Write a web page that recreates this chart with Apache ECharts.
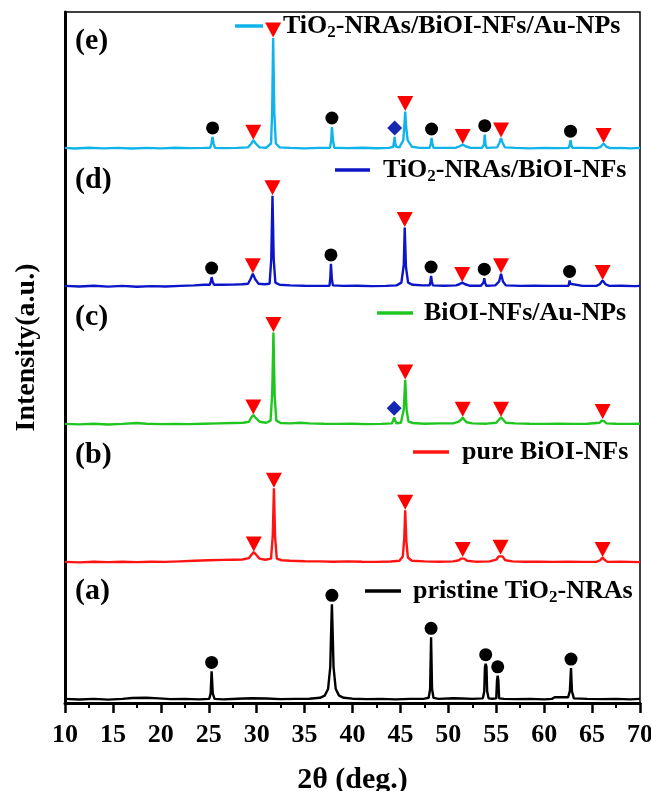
<!DOCTYPE html>
<html>
<head>
<meta charset="utf-8">
<script src="https://cdn.jsdelivr.net/npm/echarts@6/dist/echarts.min.js"></script>
<style>
  html, body { margin: 0; padding: 0; background: #fff; }
  #chart { width: 651px; height: 791px; }
</style>
</head>
<body>
<div id="chart"></div>
<script>
// XRD patterns, stacked from top (e) to bottom (a). Intensity in arbitrary units.
// Each pattern = background/shoulder points + the indexed reflections (peaks).
// Peak phase: 'A' = TiO2, 'B' = BiOI, 'Au' = Au

const sampleNames = [
  'TiO2-NRAs/BiOI-NFs/Au-NPs',
  'TiO2-NRAs/BiOI-NFs',
  'BiOI-NFs/Au-NPs',
  'pure BiOI-NFs',
  'pristine TiO2-NRAs'
];
const sampleTags = ['(e)', '(d)', '(c)', '(b)', '(a)'];

// (e) TiO2-NRAs/BiOI-NFs/Au-NPs
const peaksE = [
  [25.4, 11, 'A'], [29.65, 8, 'B'], [31.72, 101, 'B'], [37.85, 20, 'A'],
  [44.4, 11, 'Au'], [45.5, 34, 'B'], [48.25, 10, 'A'], [51.5, 4, 'B'],
  [53.8, 13, 'A'], [55.5, 10, 'B'], [62.75, 8, 'A'], [66.2, 5, 'B']
];
const profileE = [
  [10, 1], [11, 0.5], [12.5, 1.2], [14, 0.6], [15.5, 1], [17, 0.4], [18.5, 1], [20, 0.6],
  [21.5, 1.2], [23, 0.8], [24.5, 1], [25.15, 1.2], [25.28, 5], [25.5, 5], [25.65, 1],
  [26.5, 0.8], [28, 1], [29.1, 1.5], [29.45, 5], [29.9, 5], [30.3, 1.5], [31.0, 1.2],
  [31.5, 5], [31.62, 35], [31.84, 33], [32.0, 5], [32.4, 1.5], [33.5, 1], [35, 0.6],
  [36.5, 1], [37.65, 1.2], [37.78, 8], [37.98, 7], [38.1, 1.2], [39.5, 0.8], [41, 1.2],
  [42.5, 0.7], [43.8, 1], [44.25, 2], [44.32, 6], [44.47, 5], [44.55, 2], [44.9, 1.5],
  [45.3, 8], [45.42, 22], [45.6, 20], [45.75, 8], [46.2, 2], [47, 1], [48.05, 1.2],
  [48.18, 5], [48.33, 5], [48.45, 1.2], [49.5, 1], [50.8, 1.2], [51.2, 2.5], [51.8, 2.5],
  [52.3, 1], [53.5, 1], [53.72, 4], [53.88, 4], [54.0, 1], [55.1, 1.5], [55.35, 6],
  [55.65, 6], [55.9, 1.5], [57, 1], [58.5, 0.6], [60, 1], [61.5, 0.8], [62.55, 1],
  [62.67, 4], [62.85, 3], [62.95, 1], [64, 1], [65.5, 0.8], [65.9, 2], [66.5, 2],
  [66.9, 0.8], [68, 1], [69, 0.6], [70, 1]
];

// (d) TiO2-NRAs/BiOI-NFs
const peaksD = [
  [25.3, 9, 'A'], [29.6, 12, 'B'], [31.65, 83, 'B'], [37.75, 21, 'A'],
  [45.45, 54, 'B'], [48.2, 10, 'A'], [51.45, 4, 'B'], [53.75, 8, 'A'],
  [55.5, 12, 'B'], [62.65, 6, 'A'], [66.1, 6, 'B']
];
const profileD = [
  [10, 1], [11.5, 0.5], [13, 1.2], [14.5, 0.3], [16, 1], [17.5, 0.2], [19, 0.8], [20.5, 0.4],
  [22, 1], [23.5, 1.5], [24.5, 2], [25.1, 2], [25.22, 5], [25.4, 5], [25.55, 2], [26.5, 2],
  [27.5, 2.2], [28.5, 2.5], [29.1, 3], [29.35, 7], [29.85, 7], [30.2, 3], [30.8, 2.5],
  [31.35, 3], [31.52, 25], [31.78, 25], [31.95, 4], [32.4, 2], [33.5, 1.5], [35, 1.2],
  [36.5, 1], [37.6, 1.2], [37.68, 8], [37.85, 7], [37.95, 1.5], [39, 1], [40.5, 1.2],
  [42, 0.8], [43.5, 1], [44.6, 1.5], [45.1, 4], [45.35, 20], [45.58, 18], [45.8, 4],
  [46.3, 2], [47.3, 1.5], [48.05, 1.5], [48.13, 5], [48.28, 5], [48.38, 1.5], [49.5, 1.2],
  [50.8, 1.5], [51.15, 2.5], [51.75, 2.5], [52.2, 1.2], [53.4, 1.2], [53.67, 4], [53.83, 4],
  [53.95, 1.2], [54.9, 1.5], [55.3, 5], [55.7, 5], [56, 1.5], [57.5, 1], [59, 1.2],
  [60.5, 1], [62, 1], [62.55, 1.2], [62.6, 3], [62.72, 3], [62.8, 1.2], [64, 1],
  [65.5, 1.2], [65.8, 2.5], [66.4, 2.5], [66.8, 1], [68, 1.2], [69.5, 0.8], [70, 1]
];

// (c) BiOI-NFs/Au-NPs
const peaksC = [
  [29.65, 9, 'B'], [31.75, 84, 'B'], [44.35, 7, 'Au'], [45.5, 41, 'B'],
  [51.5, 7, 'B'], [55.5, 7, 'B'], [66.1, 5, 'B']
];
const profileC = [
  [10, 1], [11.5, 0.6], [13, 1.2], [14.5, 0.5], [16, 1], [17.5, 1.8], [18.5, 1.2], [20, 0.8],
  [21.5, 1], [23, 0.8], [24.5, 1.2], [26, 1.5], [27.5, 1.8], [28.6, 2], [29.2, 3],
  [29.45, 7], [29.85, 7], [30.3, 3], [31, 2], [31.45, 4], [31.62, 28], [31.88, 26],
  [32.05, 4], [32.5, 1.8], [33.5, 1.5], [34.5, 2], [35.5, 1.5], [37, 1.2], [38.5, 1],
  [40, 1.2], [41.5, 0.8], [43, 1], [44.1, 1.5], [44.25, 4], [44.45, 4], [44.6, 1.5],
  [45.05, 2], [45.35, 14], [45.65, 13], [45.85, 3], [46.3, 1.8], [47.5, 1.2], [49, 1.5],
  [50.5, 1.5], [51.1, 3], [51.35, 5], [51.65, 5], [51.9, 2.5], [52.5, 1.5], [54, 1.2],
  [55, 2], [55.3, 5], [55.7, 5], [56, 2], [57, 1.5], [58.5, 1.2], [60, 1], [61.5, 1.2],
  [63, 1], [64.5, 1.2], [65.8, 2], [66, 4], [66.25, 3.5], [66.5, 1.5], [67.5, 1.2],
  [69, 1], [70, 1.2]
];

// (b) pure BiOI-NFs
const peaksB = [
  [29.7, 10, 'B'], [31.8, 68, 'B'], [45.5, 48, 'B'], [51.5, 5, 'B'],
  [55.45, 7, 'B'], [66.1, 5, 'B']
];
const profileB = [
  [10, 1], [11.5, 0.6], [13, 1.2], [14.5, 0.8], [16, 1.2], [17.5, 0.8], [19, 1.2], [20.5, 1],
  [22, 1.5], [23.5, 2], [25, 2.5], [26.5, 2.8], [27.5, 3], [28.5, 3.2], [29.2, 4.5],
  [29.5, 8], [29.9, 8], [30.3, 4], [30.9, 3], [31.5, 4], [31.68, 25], [31.92, 24],
  [32.1, 4], [32.6, 2.5], [33.5, 2], [35, 1.6], [36.5, 1.5], [38, 1.2], [39.5, 1.5],
  [41, 1.2], [42.5, 1], [44, 1.3], [44.9, 2], [45.25, 6], [45.4, 22], [45.62, 20],
  [45.78, 5], [46.2, 2], [47.5, 1.5], [49, 1.2], [50.5, 1.5], [51.1, 2.5], [51.35, 4],
  [51.65, 4], [51.95, 2], [52.8, 1.2], [54.3, 1.5], [55, 3], [55.25, 6], [55.65, 6],
  [55.95, 2.5], [56.7, 1.5], [58, 1.2], [59.5, 1.2], [61, 1], [62.5, 1.2], [64, 1],
  [65.5, 1.2], [65.85, 2.5], [66.3, 3], [66.6, 1], [68, 1.2], [69, 1], [70, 0.8]
];

// (a) pristine TiO2-NRAs
const peaksA = [
  [25.3, 26, 'A'], [37.85, 87, 'A'], [48.2, 57, 'A'], [53.9, 33, 'A'],
  [55.15, 22, 'A'], [62.8, 29, 'A']
];
const profileA = [
  [10, 1], [11.5, 0.5], [13, 1], [14.5, 0.3], [16, 1], [17, 1.8], [18.5, 2], [19.8, 1.5],
  [21, 0.8], [22.5, 1], [24, 0.6], [25.05, 1], [25.2, 6], [25.42, 6], [25.6, 1],
  [26.5, 0.6], [28, 1.2], [29.5, 1.6], [31, 1.4], [32.5, 0.8], [34, 1], [35.5, 1.2],
  [36.6, 2], [37.1, 4], [37.45, 10], [37.68, 30], [37.75, 55], [37.95, 55], [38.02, 30],
  [38.25, 10], [38.6, 4], [39.1, 2], [40, 1.2], [41.5, 0.8], [43, 1], [44.5, 0.6],
  [46, 1], [47.5, 1.2], [47.95, 2], [48.1, 10], [48.3, 10], [48.45, 2], [49, 1],
  [50.5, 1.6], [51.5, 1.4], [52.5, 1], [53.6, 1.5], [53.75, 8], [53.82, 30], [53.98, 30],
  [54.05, 8], [54.2, 1.5], [54.6, 1.2], [55.0, 1.5], [55.08, 18], [55.22, 18], [55.3, 1.5],
  [55.8, 1], [57, 0.8], [58.5, 1], [60, 0.6], [60.8, 1], [61.1, 2.5], [62.5, 2.5],
  [62.68, 8], [62.9, 8], [63.1, 1.5], [64.5, 1], [66, 0.8], [67.5, 1], [69, 0.6], [70, 1]
];

const allPeaks = [peaksE, peaksD, peaksC, peaksB, peaksA];
const allProfiles = [profileE, profileD, profileC, profileB, profileA];

// ---- styling / layout ----
const FONT = '"Liberation Serif", "Times New Roman", serif';
const traceColors = ['#10b4ea', '#0c16c8', '#20c620', '#ff1414', '#000000'];
const phaseStyle = {
  A:  { name: 'TiO2',  symbol: 'circle', size: [13, 13], offset: [0, -9], color: '#000000' },
  B:  { name: 'BiOI',  symbol: 'path://M0,0 L16,0 L8,15 Z', size: [16, 15], offset: [0, -8], color: '#ff0000' },
  Au: { name: 'Au',    symbol: 'diamond', size: [15, 15], offset: [0, -9], color: '#1428b4' }
};
const gridTops = [11.5, 149.5, 287.5, 425.5, 562.5];
const PANEL_H = 143;
const tagCenters = [42, 181, 318, 456, 592];
const legendLayout = [
  { left: 235, w: 28, gap: 20, cy: 28 },
  { left: 335, w: 35, gap: 13, cy: 172 },
  { left: 377, w: 36, gap: 11, cy: 315 },
  { left: 413, w: 36, gap: 13, cy: 454 },
  { left: 365, w: 36, gap: 12, cy: 593 }
];

const richText = {
  t: { fontFamily: FONT, fontWeight: 'bold', fontSize: 26, lineHeight: 30, color: '#000' },
  s: { fontFamily: FONT, fontWeight: 'bold', fontSize: 17, lineHeight: 16, verticalAlign: 'bottom', color: '#000' }
};
function legendFormatter(name) {
  return name.split('TiO2').map(p => p ? '{t|' + p + '}' : '').join('{t|TiO}{s|2}');
}

const grids = [{ left: 65, right: 11, top: 12, bottom: 88, show: true, borderColor: '#000', borderWidth: 1.5, outerBoundsMode: 'none' }];
const xAxes = [{
  gridIndex: 0, type: 'value', min: 10, max: 70, interval: 5,
  name: '2θ (deg.)', nameLocation: 'middle', nameGap: 62,
  nameTextStyle: { fontFamily: FONT, fontWeight: 'bold', fontSize: 30, color: '#000' },
  axisLine: { lineStyle: { color: '#000', width: 3 } },
  axisTick: { length: 10, lineStyle: { color: '#000', width: 2.5 } },
  minorTick: { show: true, splitNumber: 2, length: 5, lineStyle: { color: '#000', width: 2 } },
  axisLabel: { margin: 19, fontFamily: FONT, fontWeight: 'bold', fontSize: 26, color: '#000' },
  splitLine: { show: false }
}];
const yAxes = [{
  gridIndex: 0, type: 'value', min: 0, max: 1,
  name: 'Intensity(a.u.)', nameLocation: 'middle', nameGap: 24,
  nameTextStyle: { fontFamily: FONT, fontWeight: 'bold', fontSize: 28, color: '#000', padding: [0, 0, 0, 20] },
  axisLine: { show: true, lineStyle: { color: '#000', width: 3 } },
  axisTick: { show: false }, axisLabel: { show: false }, splitLine: { show: false }
}];
const series = [];
const legends = [];
const graphics = [];

allProfiles.forEach((profile, i) => {
  const g = i + 1;
  grids.push({ left: 65, right: 11, top: gridTops[i], height: PANEL_H, outerBoundsMode: 'none' });
  xAxes.push({ gridIndex: g, type: 'value', min: 10, max: 70, show: false });
  yAxes.push({ gridIndex: g, type: 'value', min: -5, max: 125, show: false });

  const peaks = allPeaks[i];
  const trace = profile.concat(peaks.map(p => [p[0], p[1]])).sort((a, b) => a[0] - b[0]);
  series.push({
    name: sampleNames[i], type: 'line', xAxisIndex: g, yAxisIndex: g,
    data: trace, showSymbol: false, smooth: false, color: traceColors[i],
    lineStyle: { width: 2.4, color: traceColors[i] }, z: 3, animation: false
  });

  ['A', 'B', 'Au'].forEach(ph => {
    const pts = peaks.filter(p => p[2] === ph).map(p => [p[0], p[1]]);
    if (!pts.length) return;
    const st = phaseStyle[ph];
    series.push({
      name: st.name, type: 'scatter', xAxisIndex: g, yAxisIndex: g, data: pts,
      symbol: st.symbol, symbolSize: st.size, symbolOffset: st.offset,
      itemStyle: { color: st.color, opacity: 1 }, z: 5, animation: false, silent: true
    });
  });

  const L = legendLayout[i];
  legends.push({
    data: [sampleNames[i]], left: L.left, top: L.cy - 15, padding: 0,
    itemWidth: L.w, itemHeight: 3.5, icon: 'rect', selectedMode: false,
    formatter: legendFormatter,
    textStyle: { padding: [0, 0, 0, L.gap - 5], rich: richText }
  });

  graphics.push({
    type: 'text', left: 75, top: tagCenters[i] - 16,
    style: { text: sampleTags[i], font: 'bold 30px ' + FONT, fill: '#000' }
  });
});

const chart = echarts.init(document.getElementById('chart'), null, { renderer: 'canvas' });
chart.setOption({
  animation: false,
  backgroundColor: '#fff',
  grid: grids,
  xAxis: xAxes,
  yAxis: yAxes,
  legend: legends,
  graphic: graphics,
  series: series
});
</script>
</body>
</html>
